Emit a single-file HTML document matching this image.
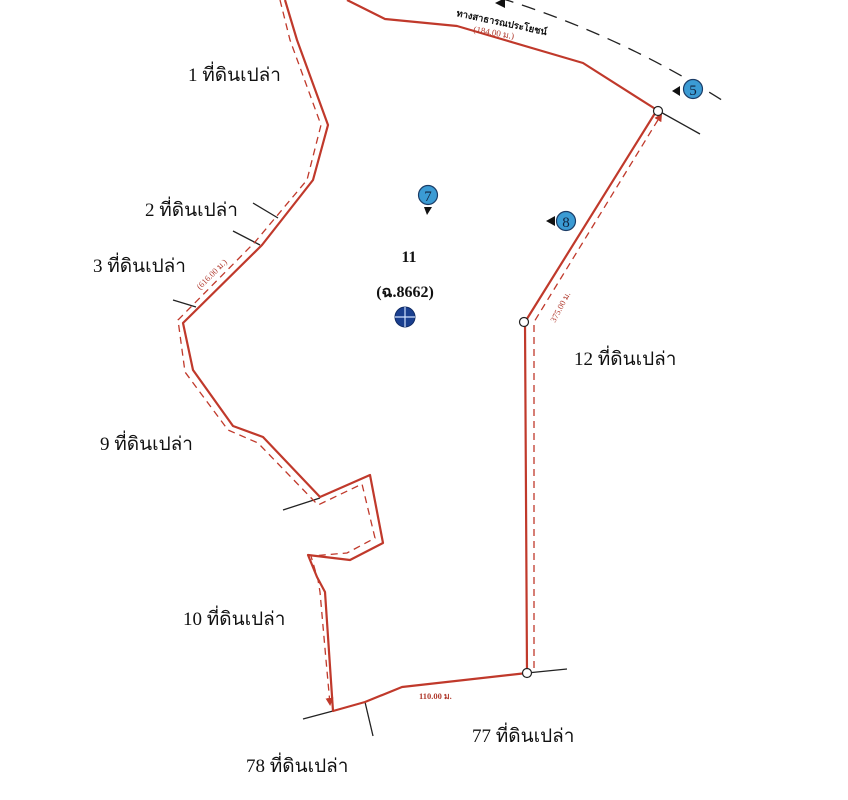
<!DOCTYPE html>
<html><head><meta charset="utf-8"><style>
html,body{margin:0;padding:0;background:#fff;}
svg{display:block}
text{font-family:"Liberation Serif","Noto Serif CJK SC","Noto Sans CJK SC",serif;}
</style></head><body>
<svg width="848" height="800" viewBox="0 0 848 800" xmlns="http://www.w3.org/2000/svg">
<defs>
<marker id="ar" markerWidth="8" markerHeight="8" refX="6" refY="4" orient="auto" markerUnits="userSpaceOnUse"><path d="M0,0 L8,4 L0,8 z" fill="#c0392b"/></marker>
</defs>
<!-- road dashed -->
<path d="M500,-2 Q620,35 725,102" fill="none" stroke="#222" stroke-width="1.3" stroke-dasharray="14,9"/>
<path d="M495,3 L505,-2 L505,8z" fill="#111"/>
<!-- black tick lines -->
<g stroke="#222" stroke-width="1.3">
<line x1="657" y1="110" x2="700" y2="134"/>
<line x1="253" y1="203" x2="278" y2="218"/>
<line x1="233" y1="231" x2="260" y2="245"/>
<line x1="173" y1="300" x2="196" y2="307"/>
<line x1="283" y1="510" x2="320" y2="498"/>
<line x1="527" y1="673" x2="567" y2="669"/>
<line x1="303" y1="719" x2="333" y2="711"/>
<line x1="365" y1="702" x2="373" y2="736"/>
</g>
<!-- dashed inner lines -->
<g fill="none" stroke="#c0392b" stroke-width="1.3" stroke-dasharray="7,5">
<path d="M280,0 L290,40 L321,125 L307,180 L255,242 L178,320 L185,372 L228,430 L258,443 L318,505 L362,484 L375,538 L347,553 L311,556 L318,580 L320,592 L326,660 L330,704" marker-end="url(#ar)"/>
<path d="M534,668 L534,322 L661,115" marker-end="url(#ar)"/>
</g>
<!-- boundary -->
<polyline fill="none" stroke="#c0392b" stroke-width="2.2" stroke-linejoin="round" points="285,0 297,40 328,125 313,180 262,245 183,323 193,370 233,426 263,437 320,497 370,475 383,543 350,560 308,555 317,577 325,592 333,711 365,702 402,687 527,673 525,322 657,110 583,63 457,26 385,19 347,0"/>
<g fill="#fff" stroke="#222" stroke-width="1.2">
<circle cx="658" cy="111" r="4.5"/>
<circle cx="524" cy="322" r="4.5"/>
<circle cx="527" cy="673" r="4.5"/>
</g>
<!-- markers -->
<g>
<circle cx="693" cy="89" r="9.5" fill="#3b9bd4" stroke="#1b3c66" stroke-width="1.2"/>
<text x="693" y="95" font-size="15" text-anchor="middle" fill="#10233f">5</text>
<path d="M672,91 L680,86 L680,96z" fill="#111"/>
<circle cx="428" cy="195" r="9.5" fill="#3b9bd4" stroke="#1b3c66" stroke-width="1.2"/>
<text x="428" y="201" font-size="15" text-anchor="middle" fill="#10233f">7</text>
<path d="M424,207 L432,207 L427,215z" fill="#111"/>
<circle cx="566" cy="221" r="9.5" fill="#3b9bd4" stroke="#1b3c66" stroke-width="1.2"/>
<text x="566" y="227" font-size="15" text-anchor="middle" fill="#10233f">8</text>
<path d="M546,221 L555,216 L555,226z" fill="#111"/>
<circle cx="405" cy="317" r="10" fill="#1a3f8f" stroke="#0f2a63"/>
<path d="M395,317 H415 M405,307 V327" stroke="#cfe0ff" stroke-width="1.2"/>
</g>
<!-- labels -->
<g font-size="19" fill="#111">
<text x="188" y="81">1 ที่ดินเปล่า</text>
<text x="145" y="216">2 ที่ดินเปล่า</text>
<text x="93" y="272">3 ที่ดินเปล่า</text>
<text x="100" y="450">9 ที่ดินเปล่า</text>
<text x="574" y="365">12 ที่ดินเปล่า</text>
<text x="183" y="625">10 ที่ดินเปล่า</text>
<text x="472" y="742">77 ที่ดินเปล่า</text>
<text x="246" y="772">78 ที่ดินเปล่า</text>
</g>
<text x="409" y="262" font-size="16" font-weight="bold" text-anchor="middle" fill="#111">11</text>
<text x="405" y="297" font-size="16" font-weight="bold" text-anchor="middle" fill="#111">(ฉ.8662)</text>
<text x="0" y="0" font-size="9.5" font-weight="bold" fill="#111" transform="translate(456,16) rotate(12)">ทางสาธารณประโยชน์</text>
<text x="0" y="0" font-size="9" fill="#b03a2e" transform="translate(473,32) rotate(10)">(184.00 ม.)</text>
<text x="0" y="0" font-size="8.5" fill="#b03a2e" transform="translate(200,290) rotate(-45)">(616.00 ม.)</text>
<text x="0" y="0" font-size="8.5" fill="#b03a2e" transform="translate(555,323) rotate(-62)">375.00 ม.</text>
<text x="419" y="699" font-size="8.5" font-weight="bold" fill="#b03a2e">110.00 ม.</text>
</svg>
</body></html>
